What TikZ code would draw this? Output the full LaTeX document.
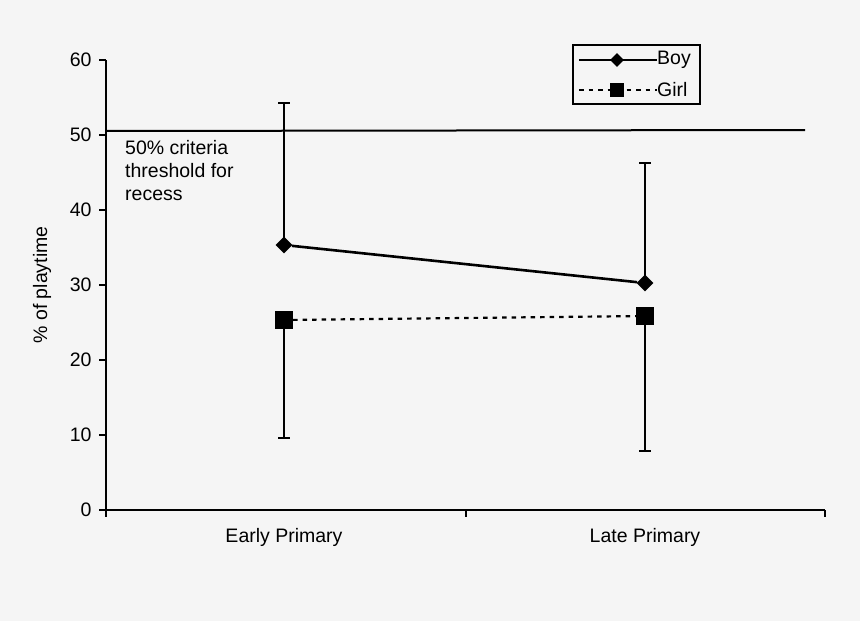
\documentclass[tikz,border=0pt]{standalone}
\usepackage{fontspec}
\setmainfont{Liberation Sans}
\usetikzlibrary{shapes.geometric}
\begin{document}
\begin{tikzpicture}[x=1pt,y=-1pt,
  lbl/.style={font=\fontsize{19.5}{23}\selectfont},
  boyline/.style={line width=2.6pt},
  girlline/.style={line width=2.2pt,dash pattern=on 4.5pt off 5pt},
  ebar/.style={line width=2.6pt},
  boymark/.style={diamond,fill=black,inner sep=0pt,minimum size=17pt},
  girlmark/.style={rectangle,fill=black,inner sep=0pt,minimum size=18pt}]
\fill[white!96!black] (0,0) rectangle (860,621);
\useasboundingbox (0,0) rectangle (860,621);
% axes
\draw[line width=2pt] (106,60) -- (106,510) -- (825,510);
\foreach \v/\y in {0/510,10/435,20/360,30/285,40/210,50/135,60/60}{
  \draw[line width=2pt] (99,\y) -- (106,\y);
  \node[lbl,anchor=east] at (95,\y) {\v};}
\foreach \x in {106,466,825} \draw[line width=2pt] (\x,510) -- (\x,517);
\node[lbl] at (284,537) {Early Primary};
\node[lbl] at (645,537) {Late Primary};
\node[lbl,rotate=90] at (42,285) {\% of playtime};
% threshold
\draw[line width=2pt] (106,131) -- (805,130);
\node[lbl,anchor=north west,align=left,inner sep=0pt] at (125,140) {50\% criteria\\threshold for\\recess};
% error bars
\draw[ebar] (284,245) -- (284,103) (278,103) -- (290,103);
\draw[ebar] (645,283) -- (645,163) (639,163) -- (651,163);
\draw[ebar] (284,320) -- (284,438) (278,438) -- (290,438);
\draw[ebar] (645,316) -- (645,451) (639,451) -- (651,451);
% series
\node[boymark] (b1) at (284,245) {};
\node[boymark] (b2) at (645,283) {};
\draw[boyline] (b1) -- (b2);
\node[girlmark] (g1) at (284,320) {};
\node[girlmark] (g2) at (645,316) {};
\draw[girlline] (g1) -- (g2);
% legend
\draw[line width=2pt] (573,45) rectangle (700,104);
\coordinate (la) at (579,60); \coordinate (lb) at (657,60);
\draw[boyline] (la) -- (lb);
\node[boymark,minimum size=14pt] at (617,60) {};
\node[lbl,anchor=west,inner sep=1pt] at (656,60) {Boy};
\coordinate (lc) at (579,90); \coordinate (ld) at (657,90);
\draw[girlline] (lc) -- (ld);
\node[girlmark,minimum size=14pt] at (617,90) {};
\node[lbl,anchor=west,inner sep=1pt] at (656,90) {Girl};
\end{tikzpicture}
\end{document}
